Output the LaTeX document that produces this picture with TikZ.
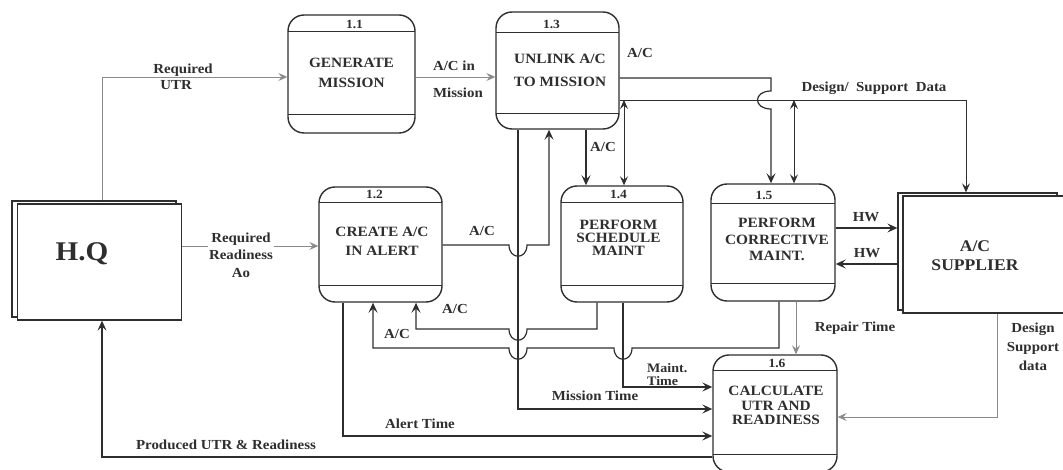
\documentclass[tikz,border=0pt]{standalone}
\usepackage{fontspec}
\setmainfont{Liberation Serif}[FakeStretch=1.08]
\usetikzlibrary{arrows.meta}
\definecolor{ink}{HTML}{2E2E2E}
\definecolor{pale}{HTML}{8A8A8A}
\begin{document}
\begin{tikzpicture}[x=1pt,y=-1pt,
  >={Stealth[length=10pt,width=9pt,inset=4pt]},
  proc/.style 2 args={draw=ink, line width=1.4pt, rounded corners=16pt, fill=white,
    path picture={\draw[ink,line width=0.9pt] ([yshift=-#1pt]path picture bounding box.north west) -- ([yshift=-#1pt]path picture bounding box.north east);
                  \draw[ink,line width=0.9pt] ([yshift=#2pt]path picture bounding box.south west) -- ([yshift=#2pt]path picture bounding box.south east);}},
  ext/.style={draw=ink, line width=1.3pt, fill=white},
  ptext/.style={font=\bfseries\fontsize{14.2}{#1}\selectfont, text=ink, align=center, inner sep=0pt},
  num/.style={font=\bfseries\fontsize{12.5}{12.5}\selectfont, text=ink, inner sep=0pt},
  lbl/.style={font=\bfseries\fontsize{13.8}{15}\selectfont, text=ink, inner sep=1pt},
  flow/.style={draw=ink, line width=1.2pt},
  dflow/.style={draw=ink, line width=0.8pt, >={Stealth[length=9pt,width=8pt,inset=3.5pt]}},
  pflow/.style={draw=pale, line width=0.7pt, >={Stealth[length=9pt,width=8pt,inset=3.5pt]}}
]
\useasboundingbox (0,0) rectangle (1063,470);

% external entities
\node[ext, minimum width=164pt, minimum height=116pt] (hqb) at (94,259) {};
\node[ext, minimum width=164pt, minimum height=116pt] (hq) at (99.5,262) {};
\node[font=\bfseries\fontsize{27}{27}\selectfont, text=ink] (hqt) at (82,254) {H.Q};

\node[ext, minimum width=159pt, minimum height=117pt] (supb) at (977.5,251.5) {};
\node[ext, minimum width=165pt, minimum height=117pt] (sup) at (985.5,254.5) {};
\node[font=\bfseries\fontsize{16.3}{19}\selectfont, text=ink, align=center] (supt) at (975,256) {A/C\\SUPPLIER};

% processes
\node[proc={16}{19}, minimum width=127pt, minimum height=118pt] (p11) at (351.5,74) {};
\node[proc={20}{16}, minimum width=123pt, minimum height=117pt] (p13) at (557.5,70.5) {};
\node[proc={15}{17}, minimum width=123pt, minimum height=115pt] (p12) at (380.5,244.5) {};
\node[proc={16}{17}, minimum width=122pt, minimum height=116pt] (p14) at (622,244) {};
\node[proc={19}{18}, minimum width=124pt, minimum height=117pt] (p15) at (773,242.5) {};
\node[proc={15}{18}, minimum width=124pt, minimum height=117pt] (p16) at (775,413.5) {};

\node[ptext=20] (t11) at (351.5,73) {GENERATE\\MISSION};
\node[ptext=23] (t13) at (560,70.5) {UNLINK A/C\\TO MISSION};
\node[ptext=19] (t12) at (382,241.5) {CREATE A/C\\IN ALERT};
\node[ptext=13] (t14) at (618.5,238) {PERFORM\\SCHEDULE\\MAINT};
\node[ptext=16.5] (t15) at (777,239.5) {PERFORM\\CORRECTIVE\\MAINT.};
\node[ptext=14.5] (t16) at (776,405.5) {CALCULATE\\UTR AND\\READINESS};

\node[num] (n11) at (354.5,24) {1.1};
\node[num] (n13) at (551.5,24) {1.3};
\node[num] (n12) at (374.5,194.5) {1.2};
\node[num] (n14) at (618.5,194.5) {1.4};
\node[num] (n15) at (764,195) {1.5};
\node[num] (n16) at (777,363) {1.6};

% coordinates
\coordinate (u1) at (102,77);
\coordinate (u2) at (200,246);
\coordinate (u3) at (450,77);
\coordinate (a1) at (771,78);
\coordinate (d1) at (966,100);
\coordinate (d2) at (624,100);
\coordinate (d3) at (794,100);
\coordinate (x586) at (586,0);
\coordinate (b1) at (549,245);
\coordinate (m1) at (518,409);
\coordinate (c1) at (597,329);
\coordinate (c2) at (416,329);
\coordinate (e1) at (779,348);
\coordinate (e2) at (373,348);
\coordinate (f1) at (623,387);
\coordinate (g1) at (343,436);
\coordinate (h1) at (102,457);
\coordinate (k1) at (866,228);
\coordinate (k2) at (866,264);
\coordinate (r1) at (796,0);
\coordinate (s1) at (997,417);

% flows
\draw[pflow,->] (u1 |- hqb.north) -- (u1) -- (u1 -| p11.west);
\draw[pflow,->] (u2 -| hq.east) -- (u2 -| p12.west);
\draw[pflow,->] (u3 -| p11.east) -- (u3 -| p13.west);

\draw[dflow,->] (p13.east |- d1) -- (d1) -- (d1 |- supb.north);
\draw[dflow,<->] (d2) -- (d2 |- p14.north);
\draw[dflow,<->] (d3) -- (d3 |- p15.north);

\draw[flow,->] (p13.east |- a1) -- (a1) -- (771,91) .. controls (753,91) and (753,109) .. (771,109) -- (a1 |- p15.north);

\draw[flow,->] (x586 |- p13.south) -- (x586 |- p14.north);

\draw[flow,->] (m1 |- p13.south) -- (m1) -- (m1 -| p16.west);

\draw[flow,->] (p12.east |- b1) -- (509,245) .. controls (509,260) and (527,260) .. (527,245) -- (b1) -- (b1 |- p13.south);

\draw[flow,->] (c1 |- p14.south) -- (c1) -- (527,329) .. controls (527,344) and (509,344) .. (509,329) -- (c2) -- (c2 |- p12.south);

\draw[flow,->] (e1 |- p15.south) -- (e1) -- (632,348) .. controls (632,363) and (614,363) .. (614,348) -- (527,348) .. controls (527,363) and (509,363) .. (509,348) -- (e2) -- (e2 |- p12.south);

\draw[flow,->] (f1 |- p14.south) -- (f1) -- (f1 -| p16.west);
\draw[flow,->] (g1 |- p12.south) -- (g1) -- (g1 -| p16.west);
\draw[flow,->] (p16.west |- h1) -- (h1) -- (h1 |- hq.south);

\draw[flow,->] (p15.east |- k1) -- (k1 -| supb.west);
\draw[flow,->] (k2 -| supb.west) -- (p15.east |- k2);

\draw[pflow,->] (r1 |- p15.south) -- (r1 |- p16.north);
\draw[pflow,->] (s1 |- sup.south) -- (s1) -- (s1 -| p16.east);

% labels
\node[lbl, align=left, font=\bfseries\fontsize{13.8}{16}\selectfont] (lutr) at (183,77) {Required\\\hspace*{7pt}UTR};
\node[lbl, fill=white, align=center, font=\bfseries\fontsize{13.8}{17.5}\selectfont] (lreq) at (241,255) {Required\\Readiness\\Ao};
\node[lbl] (lacin) at (454,66) {A/C in};
\node[lbl] (lmis) at (458,93) {Mission};
\node[lbl] (l1) at (640,53) {A/C};
\node[lbl] (l2) at (603,147) {A/C};
\node[lbl] (l3) at (482,231) {A/C};
\node[lbl] (l4) at (455,309) {A/C};
\node[lbl] (l5) at (397,334) {A/C};
\node[lbl] (l6) at (874,88) {Design/\ \ Support\ \ Data};
\node[lbl] (l7) at (866,217) {HW};
\node[lbl] (l8) at (867,253) {HW};
\node[lbl] (l9) at (855,328) {Repair Time};
\node[lbl, align=center, font=\bfseries\fontsize{13.8}{19}\selectfont] (l10) at (1033,347) {Design\\Support\\data};
\node[lbl, align=left, anchor=west, inner sep=0pt, font=\bfseries\fontsize{13}{12.5}\selectfont] (l11) at (647,374.5) {Maint.\\Time};
\node[lbl] (l12) at (595,396) {Mission Time};
\node[lbl] (l13) at (420,424) {Alert Time};
\node[lbl] (l14) at (226,445) {Produced UTR \& Readiness};
\end{tikzpicture}
\end{document}
